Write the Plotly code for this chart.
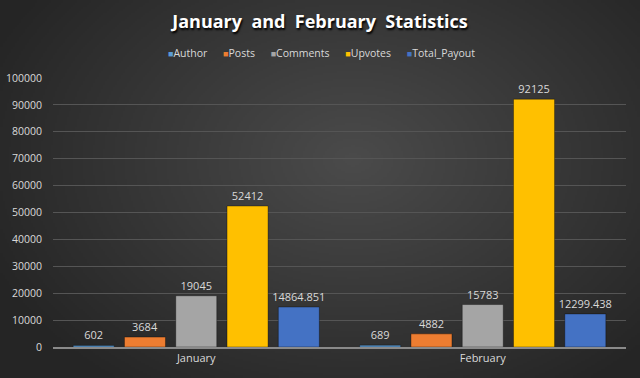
import base64, struct, zlib
import numpy as np
import plotly.graph_objects as go

months = ["January", "February"]
series_names = ["Author", "Posts", "Comments", "Upvotes", "Total_Payout"]
author = [602, 689]
posts = [3684, 4882]
comments = [19045, 15783]
upvotes = [52412, 92125]
total_payout = [14864.851, 12299.438]
label_text = {
    "Author": ["602", "689"],
    "Posts": ["3684", "4882"],
    "Comments": ["19045", "15783"],
    "Upvotes": ["52412", "92125"],
    "Total_Payout": ["14864.851", "12299.438"],
}
y_ticks = list(range(0, 100001, 10000))

colors = {
    "Author": "#5b9bd5",
    "Posts": "#ed7d31",
    "Comments": "#a5a5a5",
    "Upvotes": "#ffc000",
    "Total_Payout": "#4472c4",
}
values = {
    "Author": author,
    "Posts": posts,
    "Comments": comments,
    "Upvotes": upvotes,
    "Total_Payout": total_payout,
}

W, H = 640, 378
ML, MR, MT, MB = 53, 14, 78, 31
PW, PH = W - ML - MR, H - MT - MB


def radial_png(w, h, c_in, c_out):
    yy, xx = np.mgrid[0:h, 0:w]
    cx, cy = w * 0.55, h * 0.42
    d = np.sqrt(((xx - cx) / (w * 0.62)) ** 2 + ((yy - cy) / (h * 0.75)) ** 2)
    d = np.clip(d, 0, 1)
    v = (c_in + (c_out - c_in) * d).astype(np.uint8)
    raw = b"".join(b"\x00" + v[r].tobytes() for r in range(h))

    def chunk(t, data):
        c = struct.pack(">I", len(data)) + t + data
        return c + struct.pack(">I", zlib.crc32(t + data) & 0xffffffff)

    png = b"\x89PNG\r\n\x1a\n" + chunk(b"IHDR", struct.pack(">IIBBBBB", w, h, 8, 0, 0, 0, 0))
    png += chunk(b"IDAT", zlib.compress(raw, 9)) + chunk(b"IEND", b"")
    return "data:image/png;base64," + base64.b64encode(png).decode()


bg = radial_png(320, 189, 0x4b, 0x25)

fig = go.Figure()
for name in series_names:
    fig.add_trace(go.Bar(
        name=name, x=months, y=values[name],
        text=label_text[name], textposition="outside", constraintext="none",
        textfont=dict(color="#d9d9d9", size=11, family="Open Sans"),
        marker=dict(color=colors[name], line=dict(color="rgba(0,0,0,0.35)", width=1)),
        cliponaxis=False, showlegend=False,
    ))

legend_text = "\u2002\u2002\u2002".join(
    f'<span style="color:{colors[n]};font-size:9px">■</span>{n}' for n in series_names
)

fig.update_layout(
    width=W, height=H,
    barmode="group", bargap=0.105, bargroupgap=0.2,
    paper_bgcolor="#333333", plot_bgcolor="rgba(0,0,0,0)",
    margin=dict(l=ML, r=MR, t=MT, b=MB, autoexpand=False),
    title=dict(text="<b>January  and  February  Statistics</b>", x=0.5, xanchor="center",
               y=1 - 22 / H, yanchor="middle",
               font=dict(family="Open Sans", size=18, color="#ffffff",
                         shadow="1px 2px 2px #000000")),
    showlegend=False,
    annotations=[dict(text=legend_text, xref="paper", yref="paper",
                      x=(321 - ML) / PW, y=(H - MB - 53) / PH,
                      xanchor="center", yanchor="middle", showarrow=False,
                      font=dict(family="Open Sans", size=10.5, color="#d9d9d9"))],
    images=[dict(source=bg, xref="paper", yref="paper",
                 x=-ML / PW, y=1 + MT / PH, sizex=W / PW, sizey=H / PH,
                 xanchor="left", yanchor="top", sizing="stretch", layer="below")],
    font=dict(family="Open Sans", color="#d9d9d9"),
)
fig.update_yaxes(range=[0, 100000], tickvals=y_ticks, ticktext=[str(v) for v in y_ticks],
                 showgrid=True, gridcolor="#555555", gridwidth=1,
                 zeroline=False, showline=False,
                 tickfont=dict(size=10.5, color="#d9d9d9"), ticklabelstandoff=10)
fig.update_xaxes(showline=True, linecolor="#8a8a8a", linewidth=2,
                 tickfont=dict(size=11, color="#d9d9d9"), ticks="")
fig.write_html("out.html", config={"displayModeBar": False},
               post_script="document.body.style.margin='0';")
